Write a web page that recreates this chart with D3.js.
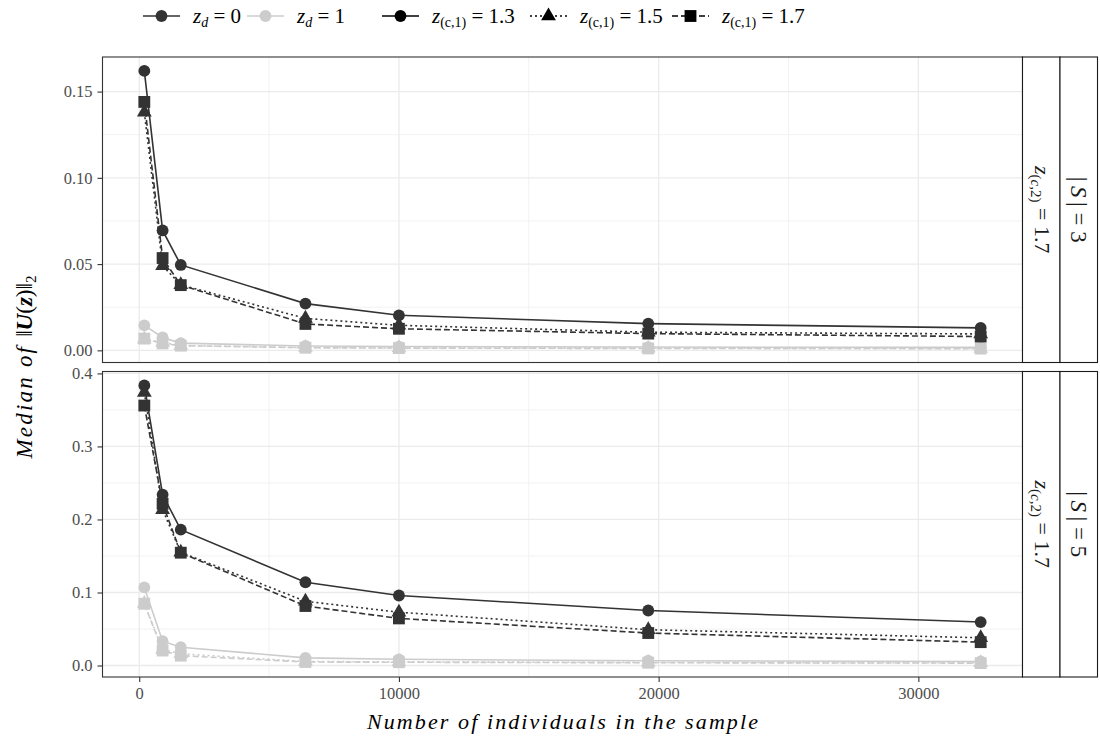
<!DOCTYPE html>
<html>
<head>
<meta charset="utf-8">
<script src="https://cdn.jsdelivr.net/npm/d3@7"></script>
<style>
  body { margin: 0; background: #fff; }
  svg text { font-family: "Liberation Serif", "DejaVu Serif", serif; }
</style>
</head>
<body>
<div id="root"></div>
<script>
// sample sizes on the x axis
const sampleSizes = [196, 900, 1600, 6400, 10000, 19600, 32400];

// |S| = 3 panel, medians per (z_d, z_(c,1))
const s3_zd0_13 = [0.162, 0.0695, 0.0495, 0.0271, 0.0203, 0.0155, 0.013];
const s3_zd0_15 = [0.138, 0.049, 0.038, 0.0185, 0.0145, 0.0105, 0.0095];
const s3_zd0_17 = [0.144, 0.0535, 0.0378, 0.0153, 0.0125, 0.0097, 0.008];
const s3_zd1_13 = [0.0145, 0.0075, 0.0042, 0.0025, 0.0022, 0.0019, 0.0017];
const s3_zd1_15 = [0.0065, 0.0045, 0.0028, 0.0016, 0.0014, 0.0012, 0.0011];
const s3_zd1_17 = [0.0068, 0.004, 0.0027, 0.0015, 0.0013, 0.0011, 0.001];

// |S| = 5 panel
const s5_zd0_13 = [0.3836, 0.234, 0.186, 0.114, 0.0959, 0.0753, 0.0595];
const s5_zd0_15 = [0.374, 0.2135, 0.155, 0.088, 0.073, 0.049, 0.038];
const s5_zd0_17 = [0.356, 0.2215, 0.1545, 0.0815, 0.0645, 0.0445, 0.032];
const s5_zd1_13 = [0.107, 0.0333, 0.025, 0.0105, 0.0085, 0.0065, 0.0055];
const s5_zd1_15 = [0.085, 0.022, 0.016, 0.0055, 0.005, 0.0042, 0.0038];
const s5_zd1_17 = [0.0845, 0.0205, 0.0135, 0.0048, 0.0045, 0.0038, 0.0033];

const xTicks = [0, 10000, 20000, 30000];
const yTicksTop = [0, 0.05, 0.1, 0.15];
const yTicksBottom = [0, 0.1, 0.2, 0.3, 0.4];
const zdLevels = ['0', '1'];
const zc1Levels = ['1.3', '1.5', '1.7'];
const panelSizes = ['3', '5'];

const zdColor = { '0': '#333333', '1': '#cccccc' };
const zc1Dash = { '1.3': null, '1.5': '2,3', '1.7': '6,3' };
const zc1Shape = { '1.3': 'circle', '1.5': 'triangle', '1.7': 'square' };

const panels = [
  { size: panelSizes[0], ticks: yTicksTop, fmt: d3.format('.2f'),
    series: [
      { zd: '1', zc: '1.3', v: s3_zd1_13 }, { zd: '1', zc: '1.5', v: s3_zd1_15 }, { zd: '1', zc: '1.7', v: s3_zd1_17 },
      { zd: '0', zc: '1.3', v: s3_zd0_13 }, { zd: '0', zc: '1.5', v: s3_zd0_15 }, { zd: '0', zc: '1.7', v: s3_zd0_17 },
    ] },
  { size: panelSizes[1], ticks: yTicksBottom, fmt: d3.format('.1f'),
    series: [
      { zd: '1', zc: '1.3', v: s5_zd1_13 }, { zd: '1', zc: '1.5', v: s5_zd1_15 }, { zd: '1', zc: '1.7', v: s5_zd1_17 },
      { zd: '0', zc: '1.3', v: s5_zd0_13 }, { zd: '0', zc: '1.5', v: s5_zd0_15 }, { zd: '0', zc: '1.7', v: s5_zd0_17 },
    ] },
];

const width = 1100;
const height = 738;
const left = 102.5;
const right = 1022.5;
const stripW = 37.5;
const panelTops = [57, 371.5];
const panelH = 305.5;

const svg = d3.select('#root').append('svg')
  .attr('width', width).attr('height', height);

// ggplot style 5% expansion
const expand = ([a, b]) => { const p = (b - a) * 0.05; return [a - p, b + p]; };

const x = d3.scaleLinear().domain(expand(d3.extent(sampleSizes))).range([left, right]);

const symbol = (shape) => {
  if (shape === 'circle') return d3.symbol(d3.symbolCircle, 110)();
  if (shape === 'triangle') return d3.symbol(d3.symbolTriangle, 95)();
  return d3.symbol(d3.symbolSquare, 140)();
};

panels.forEach((p, i) => {
  const top = panelTops[i];
  const all = p.series.flatMap(s => s.v);
  const y = d3.scaleLinear().domain(expand(d3.extent(all))).range([top + panelH, top]);
  const g = svg.append('g');

  g.append('rect').attr('x', left).attr('y', top).attr('width', right - left).attr('height', panelH)
    .attr('fill', '#fff');

  // minor + major grid
  const xMajor = x.ticks(4);
  const xMinor = d3.range(-5000, 40000, 10000).filter(v => x(v) > left && x(v) < right);
  const yStep = p.ticks[1] - p.ticks[0];
  const yMinor = p.ticks.map(t => t + yStep / 2).concat([p.ticks[0] - yStep / 2])
    .filter(v => y(v) > top && y(v) < top + panelH);
  g.selectAll('line.vmin').data(xMinor).enter().append('line')
    .attr('x1', d => x(d)).attr('x2', d => x(d)).attr('y1', top).attr('y2', top + panelH)
    .attr('stroke', '#f2f2f2').attr('stroke-width', 1);
  g.selectAll('line.hmin').data(yMinor).enter().append('line')
    .attr('x1', left).attr('x2', right).attr('y1', d => y(d)).attr('y2', d => y(d))
    .attr('stroke', '#f2f2f2').attr('stroke-width', 1);
  g.selectAll('line.vmaj').data(xMajor).enter().append('line')
    .attr('x1', d => x(d)).attr('x2', d => x(d)).attr('y1', top).attr('y2', top + panelH)
    .attr('stroke', '#ebebeb').attr('stroke-width', 1.3);
  g.selectAll('line.hmaj').data(p.ticks).enter().append('line')
    .attr('x1', left).attr('x2', right).attr('y1', d => y(d)).attr('y2', d => y(d))
    .attr('stroke', '#ebebeb').attr('stroke-width', 1.3);

  const line = d3.line().x((d, j) => x(sampleSizes[j])).y(d => y(d));

  p.series.forEach(s => {
    g.append('path').attr('d', line(s.v)).attr('fill', 'none')
      .attr('stroke', zdColor[s.zd]).attr('stroke-width', 1.6)
      .attr('stroke-dasharray', zc1Dash[s.zc]);
  });
  p.series.forEach(s => {
    g.selectAll(null).data(s.v).enter().append('path')
      .attr('d', symbol(zc1Shape[s.zc]))
      .attr('transform', (d, j) => `translate(${x(sampleSizes[j])},${y(d)})`)
      .attr('fill', zdColor[s.zd]);
  });

  g.append('rect').attr('x', left).attr('y', top).attr('width', right - left).attr('height', panelH)
    .attr('fill', 'none').attr('stroke', '#333333').attr('stroke-width', 1.1);

  // y axis
  const ay = g.append('g').attr('transform', `translate(${left},0)`)
    .call(d3.axisLeft(y).tickValues(p.ticks).tickFormat(p.fmt).tickSize(5).tickPadding(5));
  ay.select('.domain').remove();
  ay.selectAll('line').attr('stroke', '#333333').attr('stroke-width', 1.1);
  ay.selectAll('text').attr('fill', '#4d4d4d').style('font-size', '16.5px')
    .style('font-family', '"Liberation Serif", serif');

  // strips
  const inner = g.append('g');
  inner.append('rect').attr('x', right).attr('y', top).attr('width', stripW).attr('height', panelH)
    .attr('fill', '#fff').attr('stroke', '#1a1a1a').attr('stroke-width', 1.1);
  const t1 = inner.append('text')
    .attr('transform', `translate(${right + stripW / 2},${top + panelH / 2}) rotate(90)`)
    .attr('text-anchor', 'middle').attr('dy', '0.3em').style('font-size', '22px').attr('fill', '#1a1a1a');
  t1.append('tspan').style('font-style', 'italic').text('z');
  t1.append('tspan').attr('baseline-shift', '-25%').style('font-size', '15px').text('(');
  t1.append('tspan').attr('baseline-shift', '-25%').style('font-size', '15px').style('font-style', 'italic').text('c');
  t1.append('tspan').attr('baseline-shift', '-25%').style('font-size', '15px').text(',2)');
  t1.append('tspan').text(' = 1.7');

  const outer = g.append('g');
  outer.append('rect').attr('x', right + stripW).attr('y', top).attr('width', stripW).attr('height', panelH)
    .attr('fill', '#fff').attr('stroke', '#1a1a1a').attr('stroke-width', 1.1);
  const t2 = outer.append('text')
    .attr('transform', `translate(${right + stripW * 1.5},${top + panelH / 2}) rotate(90)`)
    .attr('text-anchor', 'middle').attr('dy', '0.35em').style('font-size', '23px').attr('fill', '#1a1a1a');
  t2.append('tspan').text('|\u2009');
  t2.append('tspan').style('font-style', 'italic').text('S');
  t2.append('tspan').text('\u2009| = ' + p.size);

  if (i === 1) {
    const ax = g.append('g').attr('transform', `translate(0,${top + panelH})`)
      .call(d3.axisBottom(x).tickValues(xTicks).tickFormat(d3.format('d')).tickSize(5).tickPadding(5));
    ax.select('.domain').remove();
    ax.selectAll('line').attr('stroke', '#333333').attr('stroke-width', 1.1);
    ax.selectAll('text').attr('fill', '#4d4d4d').style('font-size', '16.5px')
      .style('font-family', '"Liberation Serif", serif');
  }
});

// axis titles
svg.append('text').attr('x', (left + right) / 2 + 1).attr('y', 729).attr('text-anchor', 'middle')
  .style('font-size', '22px').style('font-style', 'italic').style('letter-spacing', '2.1px')
  .text('Number of individuals in the sample');

const yt = svg.append('text')
  .attr('transform', `translate(32,${(panelTops[0] + panelTops[1] + panelH) / 2}) rotate(-90)`)
  .attr('text-anchor', 'middle').style('font-size', '23px');
yt.append('tspan').style('font-style', 'italic').style('letter-spacing', '2.2px').text('Median of ');
yt.append('tspan').text('\u2016');
yt.append('tspan').style('font-style', 'italic').style('font-weight', 'bold').text('U');
yt.append('tspan').text('(');
yt.append('tspan').style('font-style', 'italic').style('font-weight', 'bold').text('z');
yt.append('tspan').text(')\u2016');
yt.append('tspan').attr('baseline-shift', '-25%').style('font-size', '15px').text('2');

// legend
const legendY = 16;
const legendItems = [
  { color: zdColor['0'], dash: null, shape: 'circle', sub: 'd', val: zdLevels[0], x: 143 },
  { color: zdColor['1'], dash: null, shape: 'circle', sub: 'd', val: zdLevels[1], x: 247 },
  { color: '#000', dash: zc1Dash['1.3'], shape: zc1Shape['1.3'], sub: '(c,1)', val: zc1Levels[0], x: 382 },
  { color: '#000', dash: zc1Dash['1.5'], shape: zc1Shape['1.5'], sub: '(c,1)', val: zc1Levels[1], x: 530 },
  { color: '#000', dash: zc1Dash['1.7'], shape: zc1Shape['1.7'], sub: '(c,1)', val: zc1Levels[2], x: 672 },
];
const leg = svg.selectAll('g.legend').data(legendItems).enter().append('g')
  .attr('class', 'legend').attr('transform', d => `translate(${d.x},${legendY})`);
leg.append('line').attr('x1', 0).attr('x2', 37).attr('y1', 0).attr('y2', 0)
  .attr('stroke', d => d.color).attr('stroke-width', 1.6).attr('stroke-dasharray', d => d.dash);
leg.append('path').attr('d', d => symbol(d.shape)).attr('transform', 'translate(18.5,0)')
  .attr('fill', d => d.color);
const lt = leg.append('text').attr('x', 50).attr('y', 7).style('font-size', '21px').attr('fill', '#000');
lt.append('tspan').style('font-style', 'italic').text('z');
lt.append('tspan').attr('baseline-shift', '-25%').style('font-size', '14px')
  .style('font-style', d => d.sub === 'd' ? 'italic' : 'normal').text(d => d.sub);
lt.append('tspan').text(d => ' = ' + d.val);
</script>
</body>
</html>
